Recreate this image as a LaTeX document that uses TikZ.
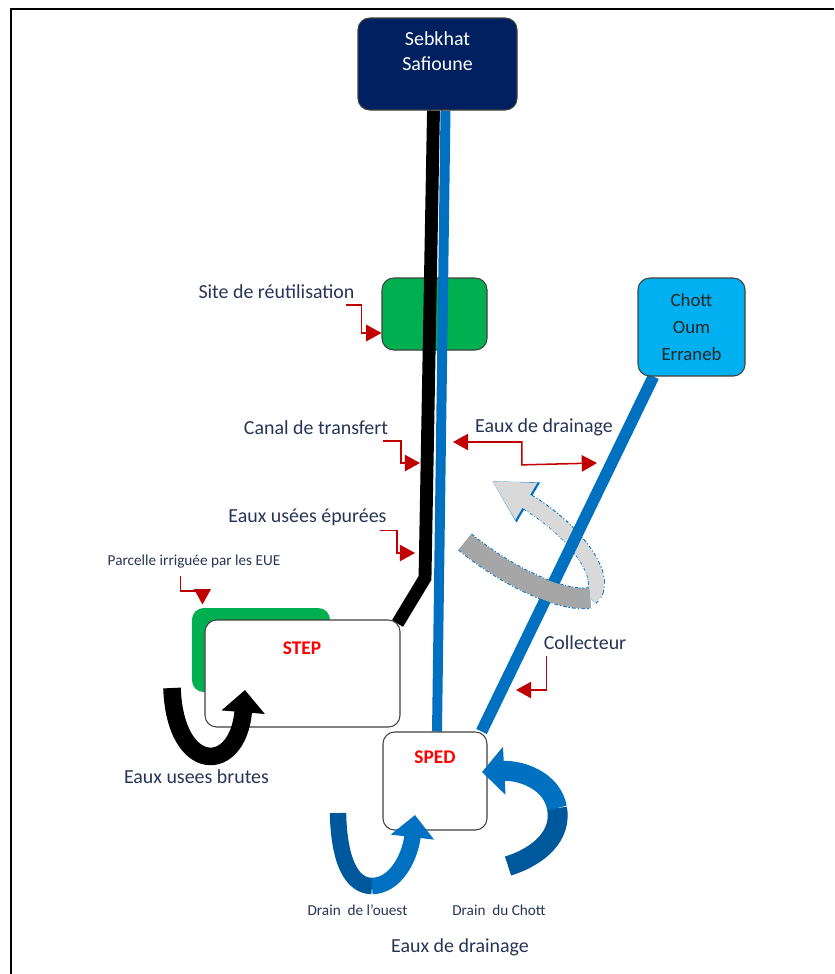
\documentclass[tikz,border=0pt]{standalone}
\usepackage{fontspec}
\setmainfont{Carlito}
\usetikzlibrary{calc,positioning,arrows.meta}

\definecolor{navy}{RGB}{0,32,96}
\definecolor{sitegreen}{RGB}{0,176,80}
\definecolor{chottblue}{RGB}{0,176,240}
\definecolor{canalblue}{RGB}{0,112,192}
\definecolor{drainblue}{RGB}{0,88,156}
\definecolor{redarrow}{RGB}{192,0,0}
\definecolor{lbltext}{RGB}{38,52,86}
\definecolor{darkgr}{RGB}{166,166,166}
\definecolor{lightgr}{RGB}{217,217,217}

\pgfdeclarelayer{fond}
\pgfdeclarelayer{canaux}
\pgfsetlayers{fond,canaux,main}

\tikzset{
  box/.style={draw=black!75,line width=0.9pt,rounded corners=10pt,inner sep=0pt},
  lbl/.style={text=lbltext,font=\fontsize{17}{20}\selectfont,inner sep=0pt},
  smalllbl/.style={text=lbltext,font=\fontsize{13}{15}\selectfont,inner sep=0pt},
  redlbl/.style={text=red,font=\bfseries\fontsize{16.5}{20}\selectfont,inner sep=0pt},
  pointer/.style={draw=redarrow,line width=1.3pt,-{Triangle[length=13pt,width=14pt]}},
  dblpointer/.style={draw=redarrow,line width=1.3pt,{Triangle[length=13pt,width=14pt]}-{Triangle[length=13pt,width=14pt]}},
  uturn/.style={line width=15pt,-{Triangle[length=19pt,width=36pt]}},
  dashout/.style={canalblue,dash pattern=on 3pt off 1.5pt on 1pt off 1.5pt}
}

\begin{document}
\begin{tikzpicture}[x=0.03cm,y=-0.03cm,inner sep=0.4mm]
\useasboundingbox (0,0) rectangle (834,974);
% cadre
\draw[line width=2.5pt] (11,974) -- (11,9) -- (834,9);

% boites
\node[box,fill=navy,minimum width=4.77cm,minimum height=2.76cm] (sebkhat) at (437.5,64) {};
\node[text=white,font=\fontsize{17}{21}\selectfont,align=center,inner sep=0pt] (sebkhattxt) at (437.5,51) {Sebkhat\\Safioune};
\node[box,fill=chottblue,minimum width=3.21cm,minimum height=2.94cm,align=center,
      font=\fontsize{16}{23}\selectfont,text=black!85] (chott) at (691.5,327) {Chott\\Oum\\Erraneb};
\node[box,fill=white,minimum width=5.85cm,minimum height=3.21cm] (step) at (302.5,673.5) {};
\node[box,fill=white,minimum width=3.12cm,minimum height=2.94cm] (sped) at (435,781) {};
\node[redlbl] (steptxt) at (302,648) {STEP};
\node[redlbl] (spedtxt) at (435,757) {SPED};

\begin{pgfonlayer}{fond}
\node[box,fill=sitegreen,draw=none,minimum width=4.14cm,minimum height=2.52cm] (parcelle) at (261,650) {};
\node[box,fill=sitegreen,minimum width=3.15cm,minimum height=2.16cm] (site) at (434.5,314) {};
% partie claire de la fleche grise, derriere le collecteur
\draw[dashout,line width=14.5pt,-{Triangle[length=36pt,width=37pt]}] (590,598) .. controls (612,580) and (575,530) .. (492,481);
\draw[lightgr,line width=13pt,-{Triangle[length=34pt,width=34pt]}] (590,598) .. controls (612,580) and (575,530) .. (492,481);
\end{pgfonlayer}

% canaux
\coordinate (bend) at (425,578);
\begin{pgfonlayer}{canaux}
\draw[line width=11pt] ($(sebkhat.south)+(-4,0)$) -- (bend) -- ($(step.north east)+(-3,4)$);
\draw[canalblue,line width=8.5pt] ($(sebkhat.south)+(8,0)$) -- ($(sped.north)+(2,0)$);
\draw[canalblue,line width=10pt] ($(chott.south west)+(16,0)$) -- ($(sped.north east)+(-6,0)$);
\end{pgfonlayer}

% partie foncee devant le collecteur
\draw[dashout,line width=18.5pt] (465,542) .. controls (505,575) and (560,602) .. (590,598);
\draw[darkgr,line width=17pt] (465,542) .. controls (505,575) and (560,602) .. (590,598);

% eaux usees brutes
\draw[uturn] (172,688) .. controls (175,775) and (238,775) .. (245,690);
% drains
\draw[drainblue,line width=14pt] (338,813) .. controls (339,862) and (352,886) .. (372,886);
\draw[canalblue,uturn,line width=14pt] (372,886) .. controls (395,886) and (410,858) .. (415,815);
\draw[drainblue,line width=17pt] (508,866) .. controls (540,856) and (562,835) .. (557,808);
\draw[canalblue,line width=17pt,-{Triangle[length=19pt,width=40pt]}] (557,808) .. controls (552,780) and (520,770) .. (482,772);

% textes
\node[lbl] (sitetxt) at (276.5,292) {Site de réutilisation};
\node[lbl] (canaltxt) at (316,428) {Canal de transfert};
\node[lbl] (euetxt) at (307.5,517) {Eaux usées épurées};
\node[smalllbl] (parctxt) at (194,562) {Parcelle irriguée par les EUE};
\node[lbl] (draintxt) at (544,427) {Eaux de drainage};
\node[lbl] (colltxt) at (585,643) {Collecteur};
\node[lbl] (brutestxt) at (196.5,777) {Eaux usees brutes};
\node[smalllbl] (ouesttxt) at (357.5,910) {Drain~ de l'ouest};
\node[smalllbl] (chotttxt) at (499,910) {Drain~ du Chott};
\node[lbl] (drainbottxt) at (460,947) {Eaux de drainage};

% fleches rouges
\coordinate (canaltip) at (420,463);
\coordinate (euetip) at (415,553);
\coordinate (drainl) at (453,442);
\coordinate (drainr) at (597,463);
\coordinate (colltip) at (516,690);
\draw[pointer] ($(sitetxt.south east)+(-9,6)$) -- ++(16,0) |- ($(site.west)+(0,19)$);
\draw[pointer] ($(canaltxt.south east)+(-5,6)$) -- ++(18,0) |- (canaltip);
\draw[pointer] ($(euetxt.south east)+(-7,5)$) -- ++(17,0) |- (euetip);
\draw[pointer] ($(parctxt.south west)+(73,7)$) -- ++(0,15) -| ($(parcelle.north west)+(11,-3)$);
\draw[dblpointer] (drainl) -| ($(draintxt.south west)+(47,29)$) -- (drainr);
\draw[pointer] ($(colltxt.south west)+(3,6)$) |- (colltip);
\end{tikzpicture}
\end{document}
